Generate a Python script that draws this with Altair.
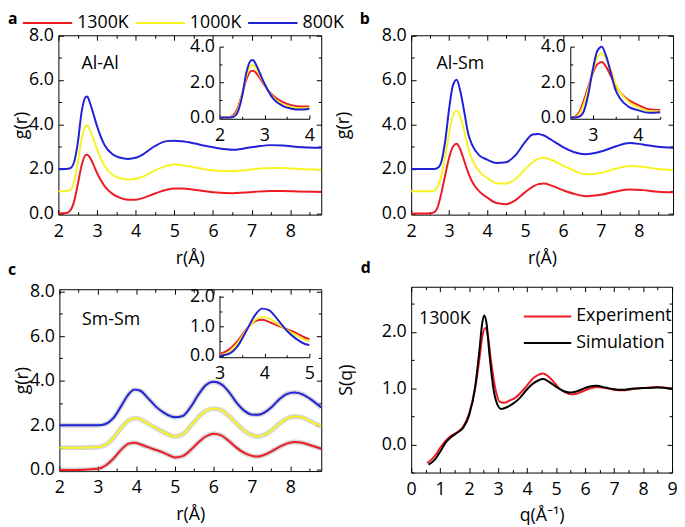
import altair as alt
import pandas as pd

W, H = 677, 519
M = 8
FONT = "Open Sans"
FS = 18


def P(v):
    return v - M


# ---------------- data ----------------
temps = ["1300K", "1000K", "800K"]
temp_colors = ["#ed1c24", "#f6f323", "#2121d6"]
temp_offsets = [0, 1, 2]

# (a) Al-Al
r_a = [2.0, 2.2, 2.3, 2.4, 2.5, 2.6, 2.7, 2.75, 2.8, 2.9, 3.0, 3.2, 3.4, 3.6, 3.8, 4.0,
       4.2, 4.5, 4.8, 5.0, 5.2, 5.5, 5.8, 6.1, 6.5, 6.8, 7.1, 7.5, 7.8, 8.2, 8.8]
alal_1300 = [0, 0.02, 0.12, 0.5, 1.3, 2.15, 2.62, 2.64, 2.55, 2.22, 1.82, 1.22, 0.88, 0.7, 0.62, 0.62,
             0.7, 0.9, 1.07, 1.12, 1.12, 1.07, 1.0, 0.94, 0.91, 0.94, 0.98, 1.01, 1.01, 0.99, 0.97]
alal_1000 = [0, 0.01, 0.06, 0.38, 1.25, 2.35, 2.93, 2.95, 2.8, 2.38, 1.88, 1.12, 0.74, 0.58, 0.53, 0.56,
             0.67, 0.94, 1.14, 1.2, 1.17, 1.08, 0.98, 0.92, 0.9, 0.94, 1.0, 1.04, 1.04, 1.0, 0.97]
alal_800 = [0, 0.0, 0.03, 0.28, 1.15, 2.55, 3.22, 3.25, 3.05, 2.5, 1.92, 1.05, 0.66, 0.5, 0.45, 0.5,
            0.67, 1.03, 1.25, 1.27, 1.24, 1.15, 1.04, 0.94, 0.86, 0.92, 1.0, 1.07, 1.05, 0.99, 0.95]

# (b) Al-Sm
r_b = [2.0, 2.4, 2.5, 2.6, 2.7, 2.8, 2.9, 3.0, 3.1, 3.2, 3.3, 3.4, 3.5, 3.6, 3.8, 4.0, 4.25,
       4.5, 4.75, 5.0, 5.2, 5.35, 5.5, 5.7, 6.0, 6.3, 6.6, 7.0, 7.4, 7.75, 8.1, 8.5, 8.9]
alsm_1300 = [0, 0, 0.01, 0.05, 0.3, 0.95, 1.75, 2.5, 3.0, 3.13, 2.85, 2.35, 1.85, 1.45, 0.98, 0.72, 0.47,
             0.42, 0.6, 0.95, 1.2, 1.32, 1.35, 1.25, 1.05, 0.88, 0.78, 0.84, 0.99, 1.08, 1.05, 0.98, 0.95]
alsm_1000 = [0, 0, 0, 0.02, 0.2, 0.75, 1.6, 2.6, 3.4, 3.62, 3.3, 2.7, 1.95, 1.45, 0.88, 0.6, 0.36,
             0.35, 0.55, 0.98, 1.3, 1.45, 1.5, 1.4, 1.15, 0.92, 0.76, 0.82, 1.02, 1.13, 1.1, 1.0, 0.95]
alsm_800 = [0, 0, 0, 0, 0.05, 0.35, 1.3, 2.7, 3.75, 4.0, 3.45, 2.55, 1.6, 1.1, 0.6, 0.42, 0.27,
            0.3, 0.62, 1.2, 1.55, 1.57, 1.5, 1.3, 0.98, 0.75, 0.66, 0.78, 1.02, 1.17, 1.1, 1.0, 0.95]

# (c) Sm-Sm
r_c = [2.0, 2.5, 3.0, 3.2, 3.4, 3.6, 3.8, 3.95, 4.1, 4.3, 4.5, 4.7, 4.9, 5.0, 5.2, 5.4, 5.6,
       5.8, 6.0, 6.2, 6.4, 6.6, 6.8, 7.0, 7.15, 7.3, 7.5, 7.7, 7.9, 8.1, 8.3, 8.5, 8.8]
smsm_1300 = [0, 0, 0.05, 0.2, 0.5, 0.9, 1.18, 1.22, 1.15, 1.02, 0.9, 0.78, 0.62, 0.56, 0.62, 0.88, 1.22,
             1.5, 1.62, 1.55, 1.3, 1.0, 0.76, 0.63, 0.6, 0.66, 0.82, 1.02, 1.18, 1.25, 1.22, 1.12, 0.95]
smsm_1000 = [0, 0, 0.02, 0.12, 0.42, 0.88, 1.22, 1.32, 1.27, 1.08, 0.88, 0.7, 0.54, 0.5, 0.6, 0.95, 1.35,
             1.65, 1.75, 1.68, 1.42, 1.08, 0.76, 0.56, 0.5, 0.56, 0.76, 1.06, 1.3, 1.4, 1.36, 1.2, 0.95]
smsm_800 = [0, 0, 0.0, 0.06, 0.32, 0.85, 1.4, 1.6, 1.55, 1.22, 0.85, 0.58, 0.4, 0.36, 0.42, 0.8, 1.35,
            1.8, 1.95, 1.85, 1.5, 1.02, 0.66, 0.48, 0.47, 0.55, 0.8, 1.15, 1.4, 1.47, 1.4, 1.2, 0.8]

# (d) S(q)
sq_series = ["Experiment", "Simulation"]
sq_colors = ["#ed1c24", "#000000"]
q_exp = [0.55, 0.7, 0.85, 1.0, 1.2, 1.4, 1.6, 1.8, 2.0, 2.2, 2.35, 2.45, 2.55, 2.65, 2.75, 2.9, 3.05,
         3.2, 3.4, 3.6, 3.8, 4.0, 4.2, 4.4, 4.55, 4.7, 4.9, 5.1, 5.3, 5.5, 5.7, 5.9, 6.1, 6.4, 6.7,
         7.0, 7.3, 7.6, 8.0, 8.5, 9.0]
s_exp = [-0.33, -0.27, -0.18, -0.06, 0.07, 0.16, 0.22, 0.32, 0.55, 0.97, 1.5, 1.9, 2.07, 1.92, 1.5, 1.0,
         0.76, 0.74, 0.78, 0.83, 0.93, 1.05, 1.17, 1.24, 1.26, 1.22, 1.12, 1.0, 0.93, 0.89, 0.9, 0.94,
         0.98, 1.02, 1.0, 0.97, 0.96, 0.98, 1.0, 1.02, 0.99]
q_sim = [0.6, 0.8, 1.0, 1.2, 1.4, 1.6, 1.8, 2.0, 2.2, 2.35, 2.45, 2.52, 2.6, 2.7, 2.85, 3.0, 3.1, 3.3,
         3.5, 3.7, 4.0, 4.2, 4.4, 4.55, 4.7, 4.9, 5.1, 5.3, 5.5, 5.7, 5.9, 6.1, 6.4, 6.7, 7.0, 7.3,
         7.6, 8.0, 8.5, 9.0]
s_sim = [-0.36, -0.28, -0.13, 0.04, 0.14, 0.21, 0.3, 0.52, 1.0, 1.65, 2.15, 2.29, 2.15, 1.6, 0.95, 0.68,
         0.63, 0.66, 0.72, 0.8, 0.98, 1.08, 1.14, 1.16, 1.13, 1.06, 0.99, 0.94, 0.92, 0.94, 0.98, 1.02,
         1.04, 1.01, 0.98, 0.97, 0.99, 1.0, 1.01, 0.99]


def long_df(r, lists):
    rows = []
    for T, off, vals in zip(temps, temp_offsets, lists):
        for rv, gv in zip(r, vals):
            rows.append({"r": rv, "g": gv, "gs": round(gv + off, 4), "T": T})
    return pd.DataFrame(rows)


df_a = long_df(r_a, [alal_1300, alal_1000, alal_800])
df_b = long_df(r_b, [alsm_1300, alsm_1000, alsm_800])
df_c = long_df(r_c, [smsm_1300, smsm_1000, smsm_800])
df_d = pd.concat([
    pd.DataFrame({"q": q_exp, "S": s_exp, "T": sq_series[0]}),
    pd.DataFrame({"q": q_sim, "S": s_sim, "T": sq_series[1]}),
])

temp_scale = alt.Scale(domain=temps, range=temp_colors)
sq_scale = alt.Scale(domain=sq_series, range=sq_colors)

# ---------------- helpers ----------------
layers = []

AX = dict(grid=False, labelFont=FONT, labelFontSize=FS, labelColor="black",
          titleFont=FONT, titleFontSize=FS, titleFontWeight="normal", titleColor="black",
          domainColor="black", domainWidth=1, labelFlush=False, labelOverlap=False,
          tickCount=200)


def lin(domain, lo, hi):
    return alt.Scale(domain=domain, range=[P(lo), P(hi)], nice=False, zero=False)


def x_lab(y_page, values, fmt, title, tpad, lpad, domain=True):
    return alt.Axis(orient="bottom", offset=P(y_page) - H, values=values, format=fmt,
                    ticks=False, domain=domain, labelPadding=lpad, title=title,
                    titlePadding=tpad, **AX)


def y_lab(x_page, values, fmt, title, tpad, lpad):
    return alt.Axis(orient="left", offset=-P(x_page), values=values, format=fmt,
                    ticks=False, domain=True, labelPadding=lpad, title=title,
                    titlePadding=tpad, **AX)


def tick_ax(orient, offset, values, test, big, small, domain):
    return alt.Axis(orient=orient, offset=offset, values=values, labels=False, ticks=True,
                    tickSize={"condition": {"test": test, "value": big}, "value": small},
                    tickColor="black", tickWidth=1, domain=domain, domainColor="black",
                    domainWidth=1, grid=False, title=None, tickCount=200)


def add_panel(df, xf, yf, xd, yd, box, xlabels, ylabels, xfmt, yfmt, xticks, yticks,
              xtest, ytest, big, small, full, cscale, legend, xtitle=None, ytitle=None,
              xtp=9, ytp=2, xlp=8, ylp=5, halo=False, mid_xlabels=None):
    left, right, top, bottom = box
    xs = lin(xd, left, right)
    ys = lin(yd, bottom, top)
    cdf = pd.DataFrame({"x": xd, "y": yd})
    base = alt.Chart(cdf).mark_point(opacity=0)
    layers.append(base.encode(
        x=alt.X("x:Q", scale=xs, axis=tick_ax("top", -P(bottom), xticks, xtest, big, small, False)),
        y=alt.Y("y:Q", scale=ys, axis=tick_ax("right", P(left) - W, yticks, ytest, big, small, False)),
    ))
    if full:
        layers.append(base.encode(
            x=alt.X("x:Q", scale=xs, axis=tick_ax("bottom", P(top) - H, xticks, xtest, big, small, True)),
            y=alt.Y("y:Q", scale=ys, axis=tick_ax("left", -P(right), yticks, ytest, big, small, True)),
        ))
    if mid_xlabels:
        layers.append(base.encode(
            x=alt.X("x:Q", scale=xs, axis=x_lab(bottom, mid_xlabels, xfmt, None, 0, xlp, False)),
            y=alt.Y("y:Q", scale=ys, axis=None),
        ))
    if halo:
        layers.append(alt.Chart(df).mark_line(strokeWidth=5, color="#8a8a8a", opacity=0.35,
                                              interpolate="monotone").encode(
            x=alt.X(f"{xf}:Q", scale=xs, axis=None),
            y=alt.Y(f"{yf}:Q", scale=ys, axis=None),
            detail="T:N",
        ))
    layers.append(alt.Chart(df).mark_line(strokeWidth=2, interpolate="monotone").encode(
        x=alt.X(f"{xf}:Q", scale=xs, axis=x_lab(bottom, xlabels, xfmt, xtitle, xtp, xlp)),
        y=alt.Y(f"{yf}:Q", scale=ys, axis=y_lab(left, ylabels, yfmt, ytitle, ytp, ylp)),
        color=alt.Color("T:N", scale=cscale, legend=legend),
    ))
    return xs, ys


def add_text(txt, xv, yv, xs, ys):
    layers.append(alt.Chart(pd.DataFrame({"x": [xv], "y": [yv], "t": [txt]})).mark_text(
        align="left", baseline="middle", font=FONT, fontSize=FS, color="black").encode(
        x=alt.X("x:Q", scale=xs, axis=None), y=alt.Y("y:Q", scale=ys, axis=None), text="t:N"))


def add_letter(ch, xp, yp):
    layers.append(alt.Chart(pd.DataFrame({"t": [ch]})).mark_text(
        align="left", baseline="middle", font=FONT, fontSize=16, fontWeight="bold",
        color="black").encode(x=alt.value(P(xp)), y=alt.value(P(yp)), text="t:N"))


main_xticks = [2 + 0.5 * i for i in range(14)]
main_yticks = list(range(0, 9))
main_xlabels = [2, 3, 4, 5, 6, 7, 8]
main_ylabels = [0, 2, 4, 6, 8]
INT = "datum.value % 1 === 0"
EVEN = "datum.value % 2 === 0"

temp_legend = alt.Legend(orient="none", legendX=P(22), legendY=3, direction="horizontal",
                         symbolType="stroke", symbolSize=2500, symbolStrokeWidth=2,
                         labelFont=FONT, labelFontSize=FS, labelColor="black", title=None,
                         labelOffset=4, columnPadding=5, padding=0, clipHeight=18)
sq_legend = alt.Legend(orient="none", legendX=P(529), legendY=P(308), direction="vertical",
                       symbolType="stroke", symbolSize=2304, symbolStrokeWidth=2,
                       labelFont=FONT, labelFontSize=FS, labelColor="black", title=None,
                       labelOffset=4, rowPadding=9, padding=0, clipHeight=18)

# ---- panel a ----
xs, ys = add_panel(df_a, "r", "gs", [2, 8.8], [-0.05, 8.0], (59, 325, 32.5, 214),
                   main_xlabels, main_ylabels, "d", ".1f", main_xticks, main_yticks,
                   INT, EVEN, 5, 3, True, temp_scale, temp_legend,
                   xtitle="r(Å)", ytitle="g(r)", ytp=-2)
add_text("Al-Al", 2.6, 6.7, xs, ys)
add_panel(df_a[df_a.r <= 4], "r", "g", [2, 4], [-0.07, 4.0], (222, 313, 44, 117),
          [2, 4], [0, 2, 4], "d", ".1f", [2, 2.5, 3, 3.5, 4], [0, 1, 2, 3, 4],
          INT, EVEN, 4, 2.5, False, temp_scale, None, mid_xlabels=[3])

# ---- panel b ----
xs, ys = add_panel(df_b, "r", "gs", [2, 8.9], [-0.05, 8.0], (416, 681, 32.5, 214),
                   main_xlabels, main_ylabels, "d", ".1f", main_xticks, main_yticks,
                   INT, EVEN, 5, 3, True, temp_scale, None,
                   xtitle="r(Å)", ytitle="g(r)", ytp=29)
add_text("Al-Sm", 2.67, 6.72, xs, ys)
add_panel(df_b[(df_b.r >= 2.5) & (df_b.r <= 4.5)], "r", "g", [2.5, 4.5], [-0.07, 4.0],
          (577, 668, 44, 117), [3, 4], [0, 2, 4], "d", ".1f",
          [2.5, 3, 3.5, 4, 4.5], [0, 1, 2, 3, 4], INT, EVEN, 4, 2.5, False, temp_scale, None)

# ---- panel c ----
xs, ys = add_panel(df_c, "r", "gs", [2, 8.8], [-0.05, 8.1], (60, 325, 289.5, 473.5),
                   main_xlabels, main_ylabels, "d", ".1f", main_xticks, main_yticks,
                   INT, EVEN, 5, 3, True, temp_scale, None,
                   xtitle="r(Å)", ytitle="g(r)", ytp=-2, halo=True)
add_text("Sm-Sm", 2.59, 6.72, xs, ys)
add_panel(df_c[(df_c.r >= 3) & (df_c.r <= 5)], "r", "g", [3, 5], [-0.05, 2.04],
          (222, 313, 296, 358.3), [3, 5], [0, 1, 2], "d", ".1f",
          [3, 3.5, 4, 4.5, 5], [0, 0.5, 1, 1.5, 2], INT, INT, 4, 2.5, False, temp_scale, None,
          mid_xlabels=[4])

# ---- panel d ----
xs, ys = add_panel(df_d, "q", "S", [0, 9], [-0.5, 2.8], (416, 680, 287, 475),
                   list(range(10)), [0, 1, 2], "d", ".1f",
                   [0.5 * i for i in range(19)], [-0.5, 0, 0.5, 1, 1.5, 2, 2.5],
                   INT, INT, 5, 3, True, sq_scale, sq_legend,
                   xtitle="q(Å⁻¹)", ytitle="S(q)", ytp=26)
add_text("1300K", 0.27, 2.22, xs, ys)

# ---- panel letters ----
add_letter("a", 8, 16)
add_letter("b", 364, 16)
add_letter("c", 8, 270)
add_letter("d", 365, 268)

chart = alt.layer(*layers).resolve_scale(
    x="independent", y="independent", color="independent"
).properties(
    width=W, height=H, padding=0, autosize=alt.AutoSizeParams(type="none")
).configure_view(strokeWidth=0)

chart.save("out.html", embed_options={"renderer": "svg", "actions": False})
